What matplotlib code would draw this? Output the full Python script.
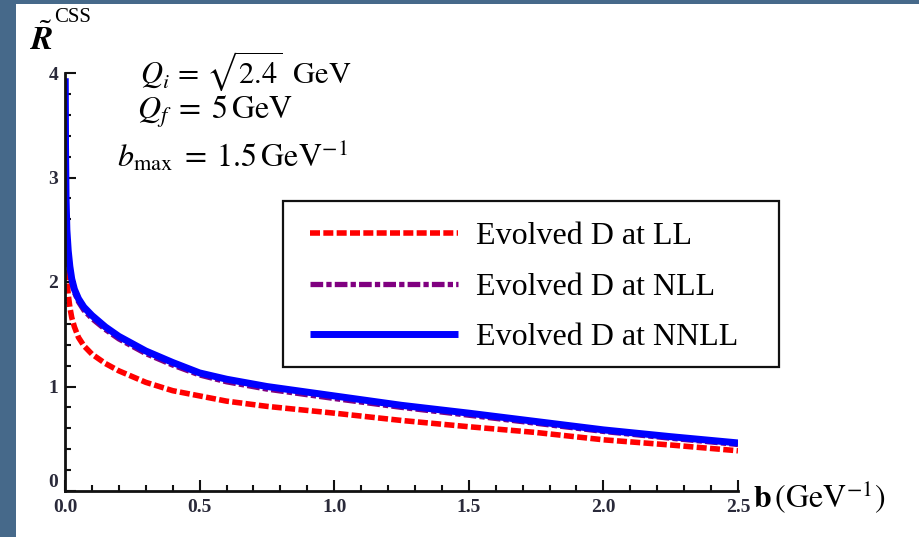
import matplotlib
matplotlib.use("Agg")
import matplotlib.pyplot as plt
from matplotlib.patches import Rectangle
from matplotlib.ticker import MultipleLocator

plt.rcParams["mathtext.fontset"] = "stix"
plt.rcParams["font.family"] = ["Liberation Serif", "DejaVu Serif"]

# impact parameter b (GeV^-1)
b_vals = [0.001, 0.002, 0.004, 0.007, 0.012, 0.018, 0.025, 0.035, 0.05, 0.07,
          0.1, 0.15, 0.2, 0.3, 0.4, 0.5, 0.6, 0.75, 1.0, 1.25, 1.5, 1.75,
          2.0, 2.25, 2.5]

# evolved D at LL, NLL and NNLL
r_ll = [2.75, 2.45, 2.2, 2.03, 1.88, 1.76, 1.66, 1.57, 1.47, 1.39,
        1.31, 1.22, 1.15, 1.04, 0.96, 0.91, 0.86, 0.81, 0.745, 0.675, 0.615, 0.56,
        0.49, 0.44, 0.385]
r_nll = [3.9, 3.25, 2.75, 2.47, 2.27, 2.12, 2.0, 1.9, 1.81, 1.73,
         1.65, 1.545, 1.455, 1.315, 1.205, 1.11, 1.045, 0.975, 0.885, 0.80, 0.725, 0.648,
         0.57, 0.505, 0.445]
r_nnll = [3.95, 3.3, 2.8, 2.5, 2.3, 2.15, 2.03, 1.93, 1.84, 1.76,
          1.68, 1.57, 1.48, 1.34, 1.23, 1.13, 1.07, 1.00, 0.91, 0.82, 0.745, 0.665,
          0.585, 0.52, 0.46]

labels = ["Evolved D at LL", "Evolved D at NLL", "Evolved D at NNLL"]

W, H = 920, 537
fig = plt.figure(figsize=(W / 100, H / 100), dpi=100)
fig.patch.set_facecolor("#46698a")


def fx(px):
    return px / W


def fy(py):
    return 1 - py / H


# white page panel
fig.patches.append(Rectangle((fx(16), 0), 1 - fx(16), fy(4), transform=fig.transFigure,
                             facecolor="white", edgecolor="none", zorder=-10))

ax = fig.add_axes([fx(65), fy(491), fx(738) - fx(65), fy(73) - fy(491)])
ax.set_facecolor("none")
ax.set_zorder(1)

ax.plot(b_vals, r_ll, color="#ff0000", lw=4, dashes=(1.8, 0.6), label=labels[0],
        solid_capstyle="butt", dash_capstyle="butt")
ax.plot(b_vals, r_nll, color="#800080", lw=3.8, dashes=(2.4, 0.6, 1.0, 0.6), label=labels[1],
        dash_capstyle="butt")
ax.plot(b_vals, r_nnll, color="#0000ff", lw=5, label=labels[2], solid_capstyle="butt")

ax.set_xlim(0, 2.5)
ax.set_ylim(0, 4)
for side in ("top", "right"):
    ax.spines[side].set_visible(False)
for side in ("left", "bottom"):
    ax.spines[side].set_linewidth(2)
    ax.spines[side].set_color("#111111")

ax.xaxis.set_major_locator(MultipleLocator(0.5))
ax.xaxis.set_minor_locator(MultipleLocator(0.1))
ax.yaxis.set_major_locator(MultipleLocator(1))
ax.yaxis.set_minor_locator(MultipleLocator(0.2))
ax.tick_params(which="both", direction="in", width=1.5, color="#111111",
               labelsize=14, labelcolor="#2a2a3a")
ax.tick_params(which="major", length=8, pad=6)
ax.tick_params(which="minor", length=4.5)
ax.tick_params(axis="y", pad=5)
ax.set_xticks([0.0, 0.5, 1.0, 1.5, 2.0, 2.5])
ax.set_xticklabels(["0.0", "0.5", "1.0", "1.5", "2.0", "2.5"])
ax.set_yticks([0, 1, 2, 3, 4])
ax.set_yticklabels(["0", "1", "2", "3", "4"])
for lab in ax.get_xticklabels() + ax.get_yticklabels():
    lab.set_fontweight("bold")
# the y origin label sits a little above the x-axis labels
ax.get_yticklabels()[0].set_va("bottom")

# legend entries without their own frame; the box is drawn separately
leg = ax.legend(loc="upper left", bbox_to_anchor=(fx(310), fy(222)),
                bbox_transform=fig.transFigure, fontsize=23, frameon=False,
                handlelength=4.63, handletextpad=0.56, borderpad=0,
                labelspacing=0.66, borderaxespad=0)
fig.patches.append(Rectangle((fx(283), fy(367)), fx(779) - fx(283), fy(201) - fy(367),
                             transform=fig.transFigure, facecolor="white",
                             edgecolor="#111111", lw=1.6, zorder=0.5))

# axis titles
fig.text(fx(30), fy(50), r"$\tilde{\mathbfit{R}}$", fontsize=24, ha="left", va="baseline")
fig.text(fx(54), fy(22), "CSS", fontsize=15, ha="left", va="baseline")
fig.text(fx(753), fy(507), r"$\mathbf{b}\,\left(\mathrm{GeV}^{-1}\right)$",
         fontsize=23, ha="left", va="baseline")

# parameter annotations
fig.text(fx(140), fy(83), r"$Q_i\,=\,\sqrt{2.4}\;\;\mathrm{GeV}$", fontsize=22,
         ha="left", va="baseline")
fig.text(fx(137), fy(119), r"$Q_f\;=\;5\,\mathrm{GeV}$", fontsize=23,
         ha="left", va="baseline")
fig.text(fx(117), fy(167), r"$b_{\mathrm{max}}\;=\;1.5\,\mathrm{GeV}^{-1}$", fontsize=23,
         ha="left", va="baseline")

fig.savefig("out.png", dpi=100, facecolor=fig.get_facecolor())
